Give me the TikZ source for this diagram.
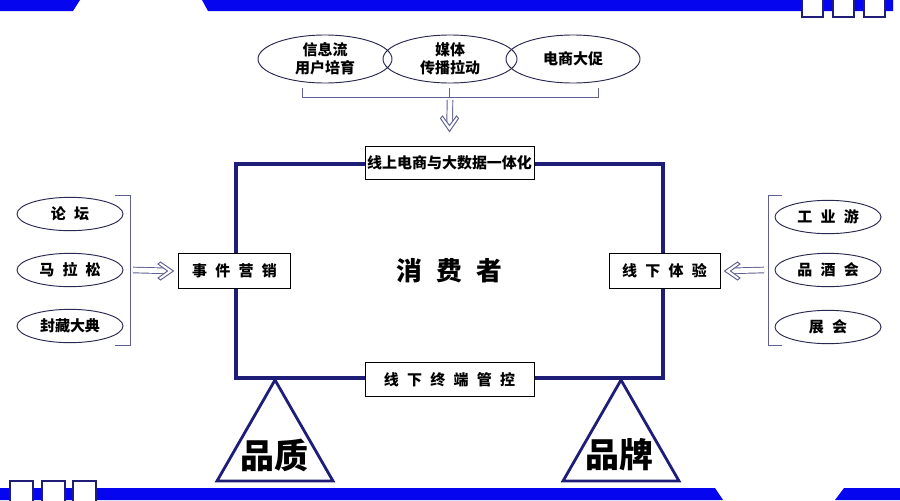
\documentclass[tikz,border=0pt]{standalone}
\usepackage{fontspec}
\setmainfont{Noto Sans CJK SC}
\usetikzlibrary{shapes.geometric, positioning}

\definecolor{barblue}{RGB}{5,5,240}
\definecolor{navy}{RGB}{30,30,120}
\definecolor{ovalline}{RGB}{40,40,80}
\definecolor{brkline}{RGB}{95,95,145}

\newcommand{\cjkgap}{\hspace{0.55em}}

\tikzset{
  txt/.style={font=\fontsize{12.8}{15.5}\selectfont\bfseries},
  oval/.style={draw=ovalline, line width=0.8pt, ellipse, inner sep=0pt,
    minimum width=3.18cm, minimum height=1cm, txt},
  topoval/.style={oval, minimum width=4.02cm, minimum height=1.44cm, align=center},
  tagbox/.style={draw=black, line width=0.8pt, fill=white, inner sep=0pt,
    minimum width=3.33cm, minimum height=1.05cm, txt},
  brk/.style={draw=brkline, line width=0.8pt},
  shaft/.style={draw=brkline, line width=0.8pt, double=white, double distance=4pt,
    shorten >=0.2cm},
  chev/.pic={\draw[brkline, line width=0.8pt, fill=white, line join=miter]
    (0,0) -- (-13,-9) -- (-15.5,-7) -- (-6,0) -- (-15.5,7) -- (-13,9) -- cycle;},
  tri/.style={draw=navy, line width=2.4pt, line join=miter},
  big/.style={font=\fontsize{29}{33}\selectfont\bfseries}
}

\begin{document}
\begin{tikzpicture}[x=0.03cm, y=-0.03cm]
  % Canvas
  \fill[white] (0,0) rectangle (900,500);
  \useasboundingbox (0,0) rectangle (900,500);

  % Top band
  \fill[barblue] (0,0) -- (80,0) -- (73,11) -- (0,11) -- cycle;
  \fill[barblue] (202,0) -- (893,0) -- (893,11) -- (208,11) -- cycle;
  \foreach \x in {802,833,864}
    \draw[navy, line width=1.6pt, fill=white] (\x,-3) rectangle ++(21,20);

  % Bottom band
  \fill[barblue] (0,488) -- (715,488) -- (723,500) -- (0,500) -- cycle;
  \fill[barblue] (844,488) -- (900,488) -- (900,500) -- (835,500) -- cycle;
  \foreach \x in {10,42,73}
    \draw[navy, line width=1.6pt, fill=white] (\x,481) rectangle ++(23,22);

  % Main frame
  \node[draw=navy, line width=2.6pt, minimum width=12.81cm, minimum height=6.42cm,
    inner sep=0pt] (frame) at (449.5,271) {};
  \node[font=\fontsize{22}{26}\selectfont\bfseries] (consumer) at (frame.center)
    {消\cjkgap 费\cjkgap 者};

  % Labels on the frame
  \node[tagbox, minimum width=5.07cm, minimum height=0.99cm] (online) at (frame.north)
    {线上电商与大数据一体化};
  \node[tagbox, minimum width=5.07cm, minimum height=1.02cm] (control) at (frame.south)
    {线\cjkgap 下\cjkgap 终\cjkgap 端\cjkgap 管\cjkgap 控};
  \node[tagbox] (event) at (frame.west) {事\cjkgap 件\cjkgap 营\cjkgap 销};
  \node[tagbox] (experience) at (frame.east) {线\cjkgap 下\cjkgap 体\cjkgap 验};

  % Top ovals
  \node[topoval] (feed) at (325,59) {信息流\\用户培育};
  \node[topoval] (media) at (450,59) {媒体\\传播拉动};
  \node[topoval] (promo) at (573,59) {电商大促};
  \draw[brk] (302,88) -- (302,97) -- (598,97) -- (598,88);
  \draw[brk] (449,88) -- (449,97);
  \coordinate (topbrk) at (450,100);
  \coordinate[above=0.42cm of online.north] (toptip);
  \draw[shaft] (topbrk) -- (toptip);
  \pic[rotate=-90] at (toptip) {chev};

  % Left ovals
  \node[oval] (forum) at (70,214) {论\cjkgap 坛};
  \node[oval] (marathon) at (70,270) {马\cjkgap 拉\cjkgap 松};
  \node[oval] (ceremony) at (70,326) {封藏大典};
  \draw[brk] (115,195) -- (130,195) -- (130,345) -- (115,345);
  \coordinate (leftbrk) at (133,270);
  \coordinate[left=0.15cm of event.west] (lefttip);
  \draw[shaft] (leftbrk) -- (lefttip);
  \pic at (lefttip) {chev};

  % Right ovals
  \node[oval] (tour) at (828,217) {工\cjkgap 业\cjkgap 游};
  \node[oval] (tasting) at (828,270) {品\cjkgap 酒\cjkgap 会};
  \node[oval] (expo) at (828,327) {展\cjkgap 会};
  \draw[brk] (782,195) -- (768,195) -- (768,345) -- (782,345);
  \coordinate (rightbrk) at (764,270);
  \coordinate[right=0.12cm of experience.east] (righttip);
  \draw[shaft] (rightbrk) -- (righttip);
  \pic[rotate=180] at (righttip) {chev};

  % Triangles
  \draw[tri] (275,380) -- (217,481) -- (333,481) -- cycle;
  \draw[tri] (621,380) -- (563,481) -- (679,481) -- cycle;
  \node[big] (quality) at (274,455) {品质};
  \node[big] (brand) at (619,455) {品牌};
\end{tikzpicture}
\end{document}
